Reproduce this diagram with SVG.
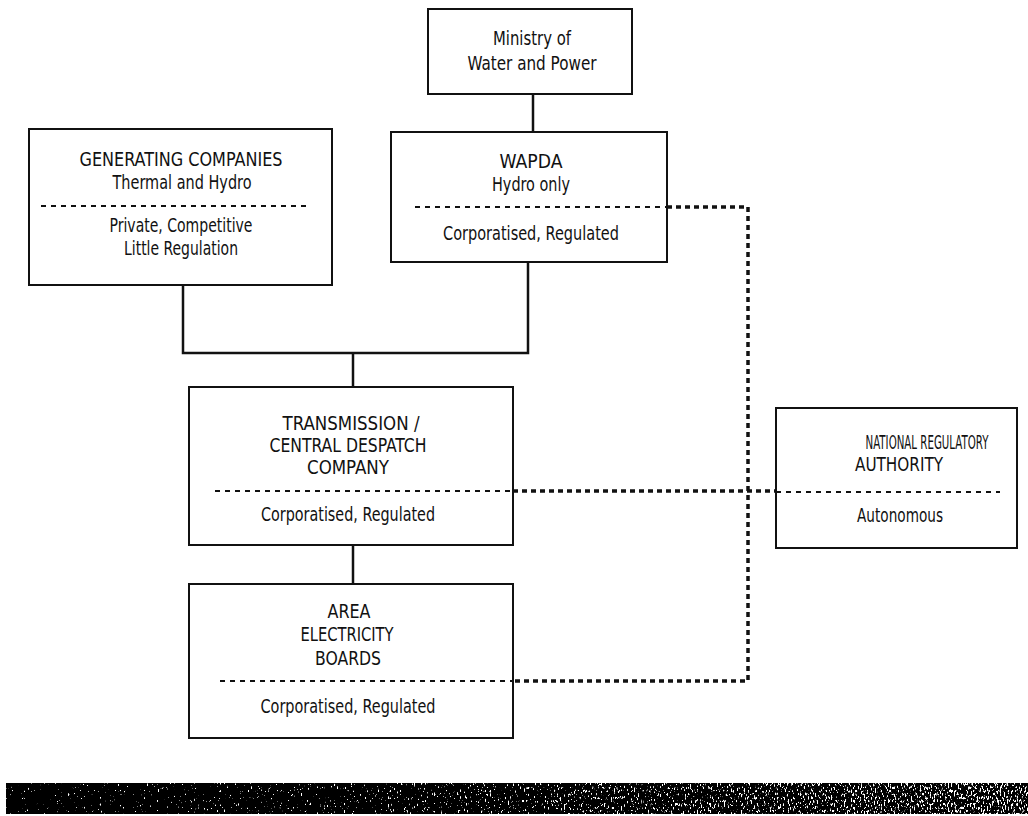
<svg xmlns="http://www.w3.org/2000/svg" width="1028" height="816" viewBox="0 0 1028 816">
<style>
.box{fill:#fff;stroke:#111;stroke-width:2}
.t{font-family:"Liberation Sans Narrow","DejaVu Sans Condensed","Liberation Sans",sans-serif;font-size:19px;fill:#111;text-anchor:middle}
.div{stroke:#111;stroke-width:2;stroke-dasharray:5 5;fill:none}
.solid{stroke:#111;stroke-width:2.5;fill:none}
.dot{stroke:#111;stroke-width:3.5;stroke-dasharray:5 4;fill:none}
</style>
<defs>
<linearGradient id="g" x1="0" y1="0" x2="1" y2="0">
<stop offset="0" stop-color="#000"/>
<stop offset="0.35" stop-color="#1a1a1a"/>
<stop offset="1" stop-color="#555"/>
</linearGradient>
<filter id="speck" x="0" y="0" width="100%" height="100%" color-interpolation-filters="sRGB">
<feTurbulence type="fractalNoise" baseFrequency="0.7 0.3" numOctaves="2" seed="7" result="n"/>
<feColorMatrix in="n" type="matrix" values="1 0 0 0 0  1 0 0 0 0  1 0 0 0 0  0 0 0 0 1" result="nr"/>
<feComposite in="nr" in2="SourceGraphic" operator="arithmetic" k1="0" k2="1" k3="0.5" k4="0" result="m"/>
<feColorMatrix in="m" type="matrix" values="0 0 0 0 1  0 0 0 0 1  0 0 0 0 1  14 0 0 0 -10"/>
</filter>
</defs>
<rect width="1028" height="816" fill="#fff"/>

<g id="connectors">
<path class="solid" d="M533 94 V132"/>
<path class="solid" d="M183 285 V353 H528 V262"/>
<path class="solid" d="M353 353 V387"/>
<path class="solid" d="M353 545 V584"/>
<path class="dot" d="M667 207 H748 V681 H513"/>
<path class="dot" d="M513 491 H776"/>
</g>

<g id="ministry">
<rect class="box" x="428" y="9" width="204" height="85"/>
<text class="t" x="532" y="45" textLength="78" lengthAdjust="spacingAndGlyphs">Ministry of</text>
<text class="t" x="532" y="70" textLength="129" lengthAdjust="spacingAndGlyphs">Water and Power</text>
</g>

<g id="generating">
<rect class="box" x="29" y="129" width="303" height="156"/>
<text class="t" x="181" y="166" textLength="203" lengthAdjust="spacingAndGlyphs">GENERATING COMPANIES</text>
<text class="t" x="182" y="189" textLength="139" lengthAdjust="spacingAndGlyphs">Thermal and Hydro</text>
<path class="div" d="M41 206 H311"/>
<text class="t" x="181" y="232" textLength="143" lengthAdjust="spacingAndGlyphs">Private, Competitive</text>
<text class="t" x="181" y="255" textLength="114" lengthAdjust="spacingAndGlyphs">Little Regulation</text>
</g>

<g id="wapda">
<rect class="box" x="391" y="132" width="276" height="130"/>
<text class="t" x="531" y="168" textLength="63" lengthAdjust="spacingAndGlyphs">WAPDA</text>
<text class="t" x="531" y="191" textLength="78" lengthAdjust="spacingAndGlyphs">Hydro only</text>
<path class="div" d="M415 207 H667"/>
<text class="t" x="531" y="240" textLength="176" lengthAdjust="spacingAndGlyphs">Corporatised, Regulated</text>
</g>

<g id="transmission">
<rect class="box" x="189" y="387" width="324" height="158"/>
<text class="t" x="351" y="430" textLength="137" lengthAdjust="spacingAndGlyphs">TRANSMISSION /</text>
<text class="t" x="348" y="452" textLength="157" lengthAdjust="spacingAndGlyphs">CENTRAL DESPATCH</text>
<text class="t" x="348" y="474" textLength="82" lengthAdjust="spacingAndGlyphs">COMPANY</text>
<path class="div" d="M215 491 H513"/>
<text class="t" x="348" y="521" textLength="174" lengthAdjust="spacingAndGlyphs">Corporatised, Regulated</text>
</g>

<g id="nra">
<rect class="box" x="776" y="408" width="241" height="140"/>
<text class="t" transform="translate(927 449) scale(0.6 1)" x="0" y="0">NATIONAL REGULATORY</text>
<text class="t" x="899" y="471" textLength="88" lengthAdjust="spacingAndGlyphs">AUTHORITY</text>
<path class="div" d="M776 492 H1000"/>
<text class="t" x="900" y="522" textLength="86" lengthAdjust="spacingAndGlyphs">Autonomous</text>
</g>

<g id="area">
<rect class="box" x="189" y="584" width="324" height="154"/>
<text class="t" x="349" y="618" textLength="43" lengthAdjust="spacingAndGlyphs">AREA</text>
<text class="t" x="347" y="641" textLength="93" lengthAdjust="spacingAndGlyphs">ELECTRICITY</text>
<text class="t" x="348" y="665" textLength="66" lengthAdjust="spacingAndGlyphs">BOARDS</text>
<path class="div" d="M220 681 H513"/>
<text class="t" x="348" y="713" textLength="175" lengthAdjust="spacingAndGlyphs">Corporatised, Regulated</text>
</g>

<g id="band">
<rect x="6" y="783" width="1022" height="31" fill="#000"/>
<rect x="6" y="783" width="1022" height="31" fill="url(#g)" filter="url(#speck)"/>
</g>
</svg>
